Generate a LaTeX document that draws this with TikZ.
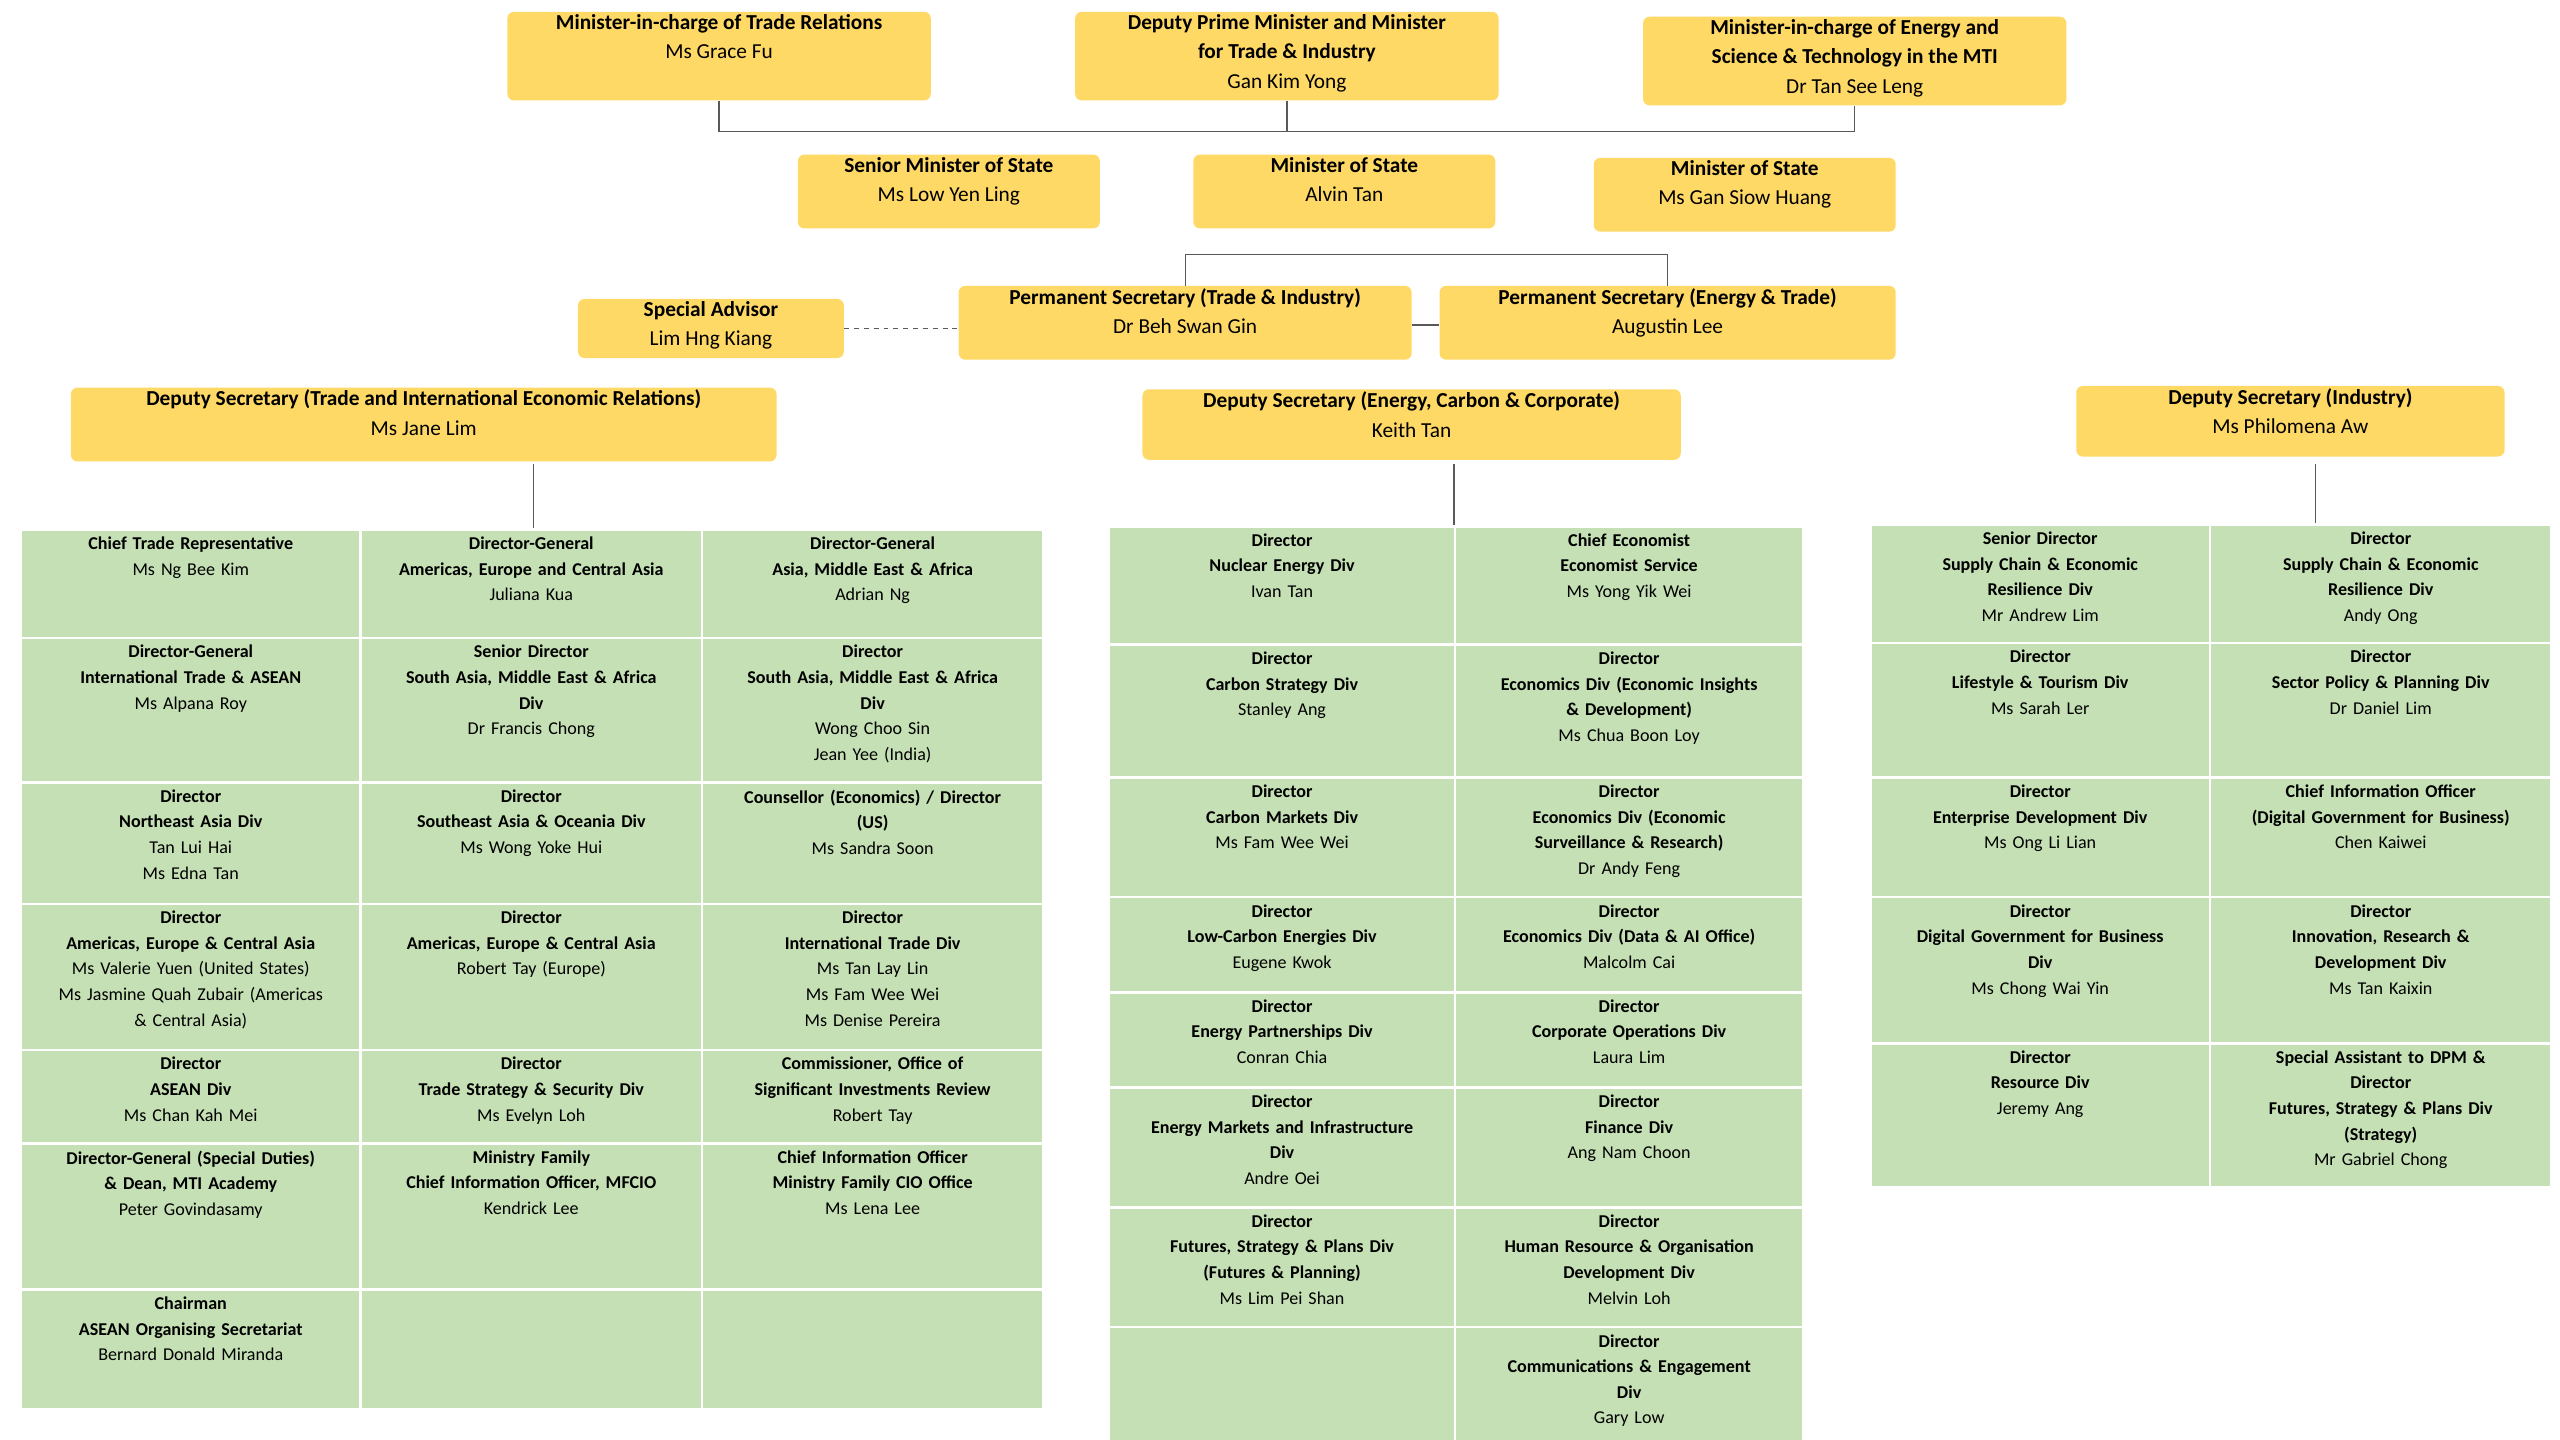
\documentclass[tikz,border=0pt]{standalone}
\usepackage{fontspec}
\setmainfont{Carlito}
\definecolor{yel}{HTML}{FFD966}
\definecolor{grn}{HTML}{C5E0B4}
\tikzset{
 ybox/.style={fill=yel,draw=none,rounded corners=4pt,inner sep=0},
 ytext/.style={inner sep=0,align=center,font=\fontsize{13}{18}\selectfont\bfseries},
 cbox/.style={fill=grn,draw=white,line width=1.5pt,inner sep=0},
 ctext/.style={inner sep=0,align=center,font=\fontsize{11}{15.6}\selectfont},
 conn/.style={draw=black!65,line width=0.8pt}
}
\newcommand\mkybox[6]{%
 \node[ybox,anchor=north west,minimum width={(#4-#2)*1pt},minimum height={(#5-#3)*1pt}] (#1) at (#2,#3) {};
 \node[ytext,anchor=north] (#1t) at ([yshift=-1.5pt]#1.north) {#6};}
\newcommand\mkcell[6]{%
 \node[cbox,anchor=north west,minimum width={(#4-#2)*1pt},minimum height={(#5-#3)*1pt}] (#1) at (#2,#3) {};
 \node[ctext,anchor=north,text width={(#4-#2-8)*1pt}] (#1t) at ([yshift=-5pt]#1.north) {#6};}
\begin{document}
\begin{tikzpicture}[x=1pt,y=-1pt]
\useasboundingbox[fill=white] (0,0) rectangle (1560,877.5);
% top
\mkybox{m1}{309}{7}{567}{61}{Minister-in-charge of Trade Relations\\\mdseries Ms Grace Fu}
\mkybox{m2}{655}{7}{913}{61}{Deputy Prime Minister and Minister\\for Trade \& Industry\\\mdseries Gan Kim Yong}
\mkybox{m3}{1001}{10}{1259}{64}{Minister-in-charge of Energy and\\Science \& Technology in the MTI\\\mdseries Dr Tan See Leng}
\mkybox{s1}{486}{94}{670}{139}{Senior Minister of State\\\mdseries Ms Low Yen Ling}
\mkybox{s2}{727}{94}{911}{139}{Minister of State\\\mdseries Alvin Tan}
\mkybox{s3}{971}{96}{1155}{141}{Minister of State\\\mdseries Ms Gan Siow Huang}
\mkybox{sa}{352}{182}{514}{218}{Special Advisor\\\mdseries Lim Hng Kiang}
\mkybox{p1}{584}{174}{860}{219}{Permanent Secretary (Trade \& Industry)\\\mdseries Dr Beh Swan Gin}
\mkybox{p2}{877}{174}{1155}{219}{Permanent Secretary (Energy \& Trade)\\\mdseries Augustin Lee}
\mkybox{d1}{43}{236}{473}{281}{Deputy Secretary (Trade and International Economic Relations)\\\mdseries Ms Jane Lim}
\mkybox{d2}{696}{237}{1024}{280}{Deputy Secretary (Energy, Carbon \& Corporate)\\\mdseries Keith Tan}
\mkybox{d3}{1265}{235}{1526}{278}{Deputy Secretary (Industry)\\\mdseries Ms Philomena Aw}
% connectors top
\draw[conn] (m1.south) -- (m1.south |- 0,80) -- (m3.south |- 0,80) -- (m3.south);
\draw[conn] (m2.south) -- (m2.south |- 0,80);
\draw[conn] (p1.north) -- (p1.north |- 0,155) -| (p2.north);
\draw[conn,dashed] (sa.east) -- (sa.east -| p1.west);
\draw[conn] (p1.east |- 0,198) -- (p2.west |- 0,198);
% left grid
\mkcell{L11}{12}{322}{219}{388}{\textbf{Chief Trade Representative}\\Ms Ng Bee Kim}
\mkcell{L12}{219}{322}{427}{388}{\textbf{Director-General}\\\textbf{Americas, Europe and Central Asia}\\Juliana Kua}
\mkcell{L13}{427}{322}{635}{388}{\textbf{Director-General}\\\textbf{Asia, Middle East \& Africa}\\Adrian Ng}
\mkcell{L21}{12}{388}{219}{476}{\textbf{Director-General}\\\textbf{International Trade \& ASEAN}\\Ms Alpana Roy}
\mkcell{L22}{219}{388}{427}{476}{\textbf{Senior Director}\\\textbf{South Asia, Middle East \& Africa}\\\textbf{Div}\\Dr Francis Chong}
\mkcell{L23}{427}{388}{635}{476}{\textbf{Director}\\\textbf{South Asia, Middle East \& Africa}\\\textbf{Div}\\Wong Choo Sin\\Jean Yee (India)}
\mkcell{L31}{12}{476}{219}{550}{\textbf{Director}\\\textbf{Northeast Asia Div}\\Tan Lui Hai\\Ms Edna Tan}
\mkcell{L32}{219}{476}{427}{550}{\textbf{Director}\\\textbf{Southeast Asia \& Oceania Div}\\Ms Wong Yoke Hui}
\mkcell{L33}{427}{476}{635}{550}{\textbf{Counsellor (Economics) / Director}\\\textbf{(US)}\\Ms Sandra Soon}
\mkcell{L41}{12}{550}{219}{639}{\textbf{Director}\\\textbf{Americas, Europe \& Central Asia}\\Ms Valerie Yuen (United States)\\Ms Jasmine Quah Zubair (Americas\\\& Central Asia)}
\mkcell{L42}{219}{550}{427}{639}{\textbf{Director}\\\textbf{Americas, Europe \& Central Asia}\\Robert Tay (Europe)}
\mkcell{L43}{427}{550}{635}{639}{\textbf{Director}\\\textbf{International Trade Div}\\Ms Tan Lay Lin\\Ms Fam Wee Wei\\Ms Denise Pereira}
\mkcell{L51}{12}{639}{219}{696}{\textbf{Director}\\\textbf{ASEAN Div}\\Ms Chan Kah Mei}
\mkcell{L52}{219}{639}{427}{696}{\textbf{Director}\\\textbf{Trade Strategy \& Security Div}\\Ms Evelyn Loh}
\mkcell{L53}{427}{639}{635}{696}{\textbf{Commissioner, Office of}\\\textbf{Significant Investments Review}\\Robert Tay}
\mkcell{L61}{12}{696}{219}{785}{\textbf{Director-General (Special Duties)}\\\textbf{\& Dean, MTI Academy}\\Peter Govindasamy}
\mkcell{L62}{219}{696}{427}{785}{\textbf{Ministry Family}\\\textbf{Chief Information Officer, MFCIO}\\Kendrick Lee}
\mkcell{L63}{427}{696}{635}{785}{\textbf{Chief Information Officer}\\\textbf{Ministry Family CIO Office}\\Ms Lena Lee}
\mkcell{L71}{12}{785}{219}{858}{\textbf{Chairman}\\\textbf{ASEAN Organising Secretariat}\\Bernard Donald Miranda}
\mkcell{L72}{219}{785}{427}{858}{}
\mkcell{L73}{427}{785}{635}{858}{}
% middle grid
\mkcell{M11}{675}{320}{886}{392}{\textbf{Director}\\\textbf{Nuclear Energy Div}\\Ivan Tan}
\mkcell{M12}{886}{320}{1098}{392}{\textbf{Chief Economist}\\\textbf{Economist Service}\\Ms Yong Yik Wei}
\mkcell{M21}{675}{392}{886}{473}{\textbf{Director}\\\textbf{Carbon Strategy Div}\\Stanley Ang}
\mkcell{M22}{886}{392}{1098}{473}{\textbf{Director}\\\textbf{Economics Div (Economic Insights}\\\textbf{\& Development)}\\Ms Chua Boon Loy}
\mkcell{M31}{675}{473}{886}{546}{\textbf{Director}\\\textbf{Carbon Markets Div}\\Ms Fam Wee Wei}
\mkcell{M32}{886}{473}{1098}{546}{\textbf{Director}\\\textbf{Economics Div (Economic}\\\textbf{Surveillance \& Research)}\\Dr Andy Feng}
\mkcell{M41}{675}{546}{886}{604}{\textbf{Director}\\\textbf{Low-Carbon Energies Div}\\Eugene Kwok}
\mkcell{M42}{886}{546}{1098}{604}{\textbf{Director}\\\textbf{Economics Div (Data \& AI Office)}\\Malcolm Cai}
\mkcell{M51}{675}{604}{886}{662}{\textbf{Director}\\\textbf{Energy Partnerships Div}\\Conran Chia}
\mkcell{M52}{886}{604}{1098}{662}{\textbf{Director}\\\textbf{Corporate Operations Div}\\Laura Lim}
\mkcell{M61}{675}{662}{886}{735}{\textbf{Director}\\\textbf{Energy Markets and Infrastructure}\\\textbf{Div}\\Andre Oei}
\mkcell{M62}{886}{662}{1098}{735}{\textbf{Director}\\\textbf{Finance Div}\\Ang Nam Choon}
\mkcell{M71}{675}{735}{886}{808}{\textbf{Director}\\\textbf{Futures, Strategy \& Plans Div}\\\textbf{(Futures \& Planning)}\\Ms Lim Pei Shan}
\mkcell{M72}{886}{735}{1098}{808}{\textbf{Director}\\\textbf{Human Resource \& Organisation}\\\textbf{Development Div}\\Melvin Loh}
\mkcell{M81}{675}{808}{886}{880}{}
\mkcell{M82}{886}{808}{1098}{880}{\textbf{Director}\\\textbf{Communications \& Engagement}\\\textbf{Div}\\Gary Low}
% right grid
\mkcell{R11}{1139}{319}{1346}{391}{\textbf{Senior Director}\\\textbf{Supply Chain \& Economic}\\\textbf{Resilience Div}\\Mr Andrew Lim}
\mkcell{R12}{1346}{319}{1554}{391}{\textbf{Director}\\\textbf{Supply Chain \& Economic}\\\textbf{Resilience Div}\\Andy Ong}
\mkcell{R21}{1139}{391}{1346}{473}{\textbf{Director}\\\textbf{Lifestyle \& Tourism Div}\\Ms Sarah Ler}
\mkcell{R22}{1346}{391}{1554}{473}{\textbf{Director}\\\textbf{Sector Policy \& Planning Div}\\Dr Daniel Lim}
\mkcell{R31}{1139}{473}{1346}{546}{\textbf{Director}\\\textbf{Enterprise Development Div}\\Ms Ong Li Lian}
\mkcell{R32}{1346}{473}{1554}{546}{\textbf{Chief Information Officer}\\\textbf{(Digital Government for Business)}\\Chen Kaiwei}
\mkcell{R41}{1139}{546}{1346}{635}{\textbf{Director}\\\textbf{Digital Government for Business}\\\textbf{Div}\\Ms Chong Wai Yin}
\mkcell{R42}{1346}{546}{1554}{635}{\textbf{Director}\\\textbf{Innovation, Research \&}\\\textbf{Development Div}\\Ms Tan Kaixin}
\mkcell{R51}{1139}{635}{1346}{723}{\textbf{Director}\\\textbf{Resource Div}\\Jeremy Ang}
\mkcell{R52}{1346}{635}{1554}{723}{\textbf{Special Assistant to DPM \&}\\\textbf{Director}\\\textbf{Futures, Strategy \& Plans Div}\\\textbf{(Strategy)}\\Mr Gabriel Chong}
% deputy connectors
\coordinate (jl) at (325,283);
\coordinate (jm) at (886,283);
\coordinate (jr) at (1411,283);
\draw[conn] (jl) -- (jl |- L11.north);
\draw[conn] (jm) -- (jm |- M11.north);
\draw[conn] (jr) -- (jr |- R11.north);
\end{tikzpicture}
\end{document}
